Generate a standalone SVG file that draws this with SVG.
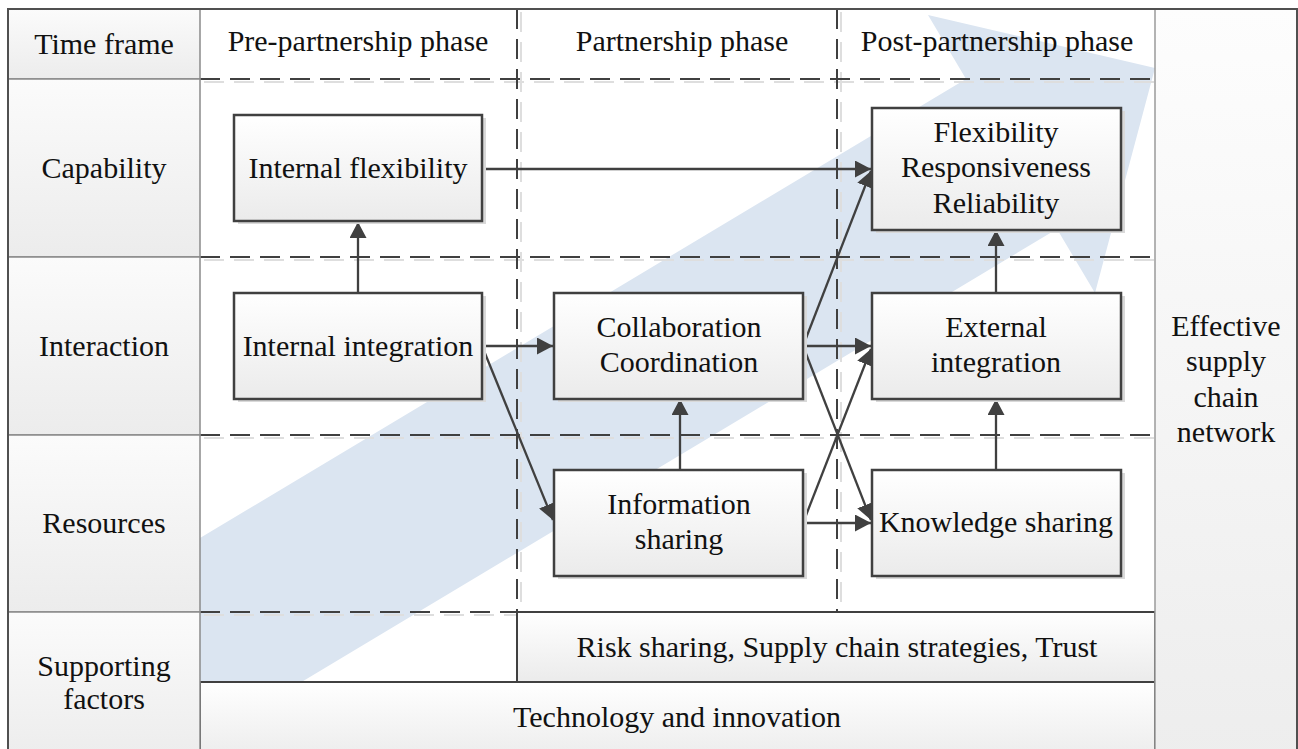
<svg xmlns="http://www.w3.org/2000/svg" width="1298" height="749" viewBox="0 0 1298 749">
<style>
text{font-family:"Liberation Serif","Times New Roman",serif;font-size:30px;fill:#111;text-anchor:middle}
.box{fill:url(#gBox);stroke:#404040;stroke-width:2.5}
.shadow{fill:#d9d9d9;stroke:none}
.cell{fill:url(#gCell);stroke:#8a8a8a;stroke-width:1.5}
.dash{stroke:#404040;stroke-width:2;stroke-dasharray:20 10;fill:none}
.dashsh{stroke:#dedede;stroke-width:2;stroke-dasharray:20 10;fill:none}
.conn{stroke:#404040;stroke-width:2.3;fill:none;marker-end:url(#arr)}
</style>
<defs>
<linearGradient id="gBox" x1="0" y1="0" x2="0" y2="1"><stop offset="0" stop-color="#ffffff"/><stop offset="1" stop-color="#ebebeb"/></linearGradient>
<linearGradient id="gCell" x1="0" y1="0" x2="0" y2="1"><stop offset="0" stop-color="#fbfbfb"/><stop offset="1" stop-color="#ececec"/></linearGradient>
<linearGradient id="gCol" x1="0" y1="0" x2="0" y2="1"><stop offset="0" stop-color="#fdfdfd"/><stop offset="1" stop-color="#ededed"/></linearGradient>
<marker id="arr" markerUnits="userSpaceOnUse" markerWidth="17" markerHeight="17" refX="16" refY="8.5" orient="auto"><path d="M0,0 L16,8.5 L0,17 z" fill="#404040"/></marker>
</defs>
<rect x="0" y="0" width="1298" height="749" fill="#ffffff"/>
<g id="trend-arrow">
<polygon points="200,538 966,79 928,15 1155,68 1095,293 1057,229 200,743" fill="#dbe5f1"/>
</g>
<g id="grid">
<g class="dashsh" transform="translate(4,3)">
<line x1="200" y1="79" x2="1151" y2="79"/><line x1="200" y1="257" x2="1151" y2="257"/><line x1="200" y1="435" x2="1151" y2="435"/><line x1="200" y1="612" x2="513" y2="612"/>
<line x1="517" y1="9" x2="517" y2="609"/><line x1="837" y1="9" x2="837" y2="609"/>
</g>
<g class="dash">
<line x1="200" y1="79" x2="1155" y2="79"/><line x1="200" y1="257" x2="1155" y2="257"/><line x1="200" y1="435" x2="1155" y2="435"/><line x1="200" y1="612" x2="517" y2="612"/>
<line x1="517" y1="9" x2="517" y2="612"/><line x1="837" y1="9" x2="837" y2="612"/>
</g>
</g>
<g id="headers">
<text x="358" y="51">Pre-partnership phase</text>
<text x="682" y="51">Partnership phase</text>
<text x="997" y="51">Post-partnership phase</text>
</g>
<g id="connectors">
<line class="conn" x1="358" y1="292" x2="358" y2="222"/>
<line class="conn" x1="482" y1="169" x2="871" y2="169"/>
<line class="conn" x1="482" y1="346" x2="553" y2="346"/>
<line class="conn" x1="482" y1="346" x2="553" y2="520"/>
<line class="conn" x1="680" y1="470" x2="680" y2="399"/>
<line class="conn" x1="803" y1="346" x2="871" y2="346"/>
<line class="conn" x1="803" y1="346" x2="871" y2="171"/>
<line class="conn" x1="803" y1="346" x2="871" y2="520"/>
<line class="conn" x1="803" y1="523" x2="871" y2="349"/>
<line class="conn" x1="803" y1="523" x2="871" y2="523"/>
<line class="conn" x1="996" y1="470" x2="996" y2="399"/>
<line class="conn" x1="996" y1="292" x2="996" y2="230"/>
</g>
<g id="internal-flexibility">
<rect class="shadow" x="238" y="118" width="248" height="106"/>
<rect class="box" x="234" y="115" width="248" height="106"/>
<text x="358" y="178">Internal flexibility</text>
</g>
<g id="internal-integration">
<rect class="shadow" x="238" y="296" width="248" height="106"/>
<rect class="box" x="234" y="293" width="248" height="106"/>
<text x="358" y="356">Internal integration</text>
</g>
<g id="collaboration">
<rect class="shadow" x="558" y="296" width="249" height="106"/>
<rect class="box" x="554" y="293" width="249" height="106"/>
<text x="679" y="337">Collaboration</text>
<text x="679" y="372">Coordination</text>
</g>
<g id="information-sharing">
<rect class="shadow" x="558" y="473" width="249" height="106"/>
<rect class="box" x="554" y="470" width="249" height="106"/>
<text x="679" y="514">Information</text>
<text x="679" y="549">sharing</text>
</g>
<g id="flexibility">
<rect class="shadow" x="876" y="111" width="249" height="122"/>
<rect class="box" x="872" y="108" width="249" height="122"/>
<text x="996" y="142">Flexibility</text>
<text x="996" y="177">Responsiveness</text>
<text x="996" y="213">Reliability</text>
</g>
<g id="external-integration">
<rect class="shadow" x="876" y="296" width="249" height="106"/>
<rect class="box" x="872" y="293" width="249" height="106"/>
<text x="996" y="337">External</text>
<text x="996" y="372">integration</text>
</g>
<g id="knowledge-sharing">
<rect class="shadow" x="876" y="473" width="249" height="106"/>
<rect class="box" x="872" y="470" width="249" height="106"/>
<text x="996" y="532">Knowledge sharing</text>
</g>
<g id="risk-sharing">
<rect x="517" y="612" width="638" height="70" fill="url(#gBox)" stroke="#404040" stroke-width="2"/>
<text x="837" y="657">Risk sharing, Supply chain strategies, Trust</text>
</g>
<g id="technology">
<rect x="200" y="682" width="955" height="80" fill="url(#gBox)" stroke="#404040" stroke-width="2"/>
<text x="677" y="727">Technology and innovation</text>
</g>
<g id="left-column">
<rect class="cell" x="8" y="9" width="192" height="70"/>
<text x="104" y="54">Time frame</text>
<rect class="cell" x="8" y="79" width="192" height="178"/>
<text x="104" y="178">Capability</text>
<rect class="cell" x="8" y="257" width="192" height="178"/>
<text x="104" y="356">Interaction</text>
<rect class="cell" x="8" y="435" width="192" height="177"/>
<text x="104" y="533">Resources</text>
<rect class="cell" x="8" y="612" width="192" height="150"/>
<text x="104" y="676">Supporting</text>
<text x="104" y="709">factors</text>
</g>
<g id="effective-network">
<rect x="1155" y="9" width="142" height="760" fill="url(#gCol)" stroke="#9a9a9a" stroke-width="1.5"/>
<text x="1226" y="336">Effective</text>
<text x="1226" y="371">supply</text>
<text x="1226" y="407">chain</text>
<text x="1226" y="442">network</text>
</g>
<rect x="8" y="9" width="1289" height="760" fill="none" stroke="#505050" stroke-width="2"/>
</svg>
